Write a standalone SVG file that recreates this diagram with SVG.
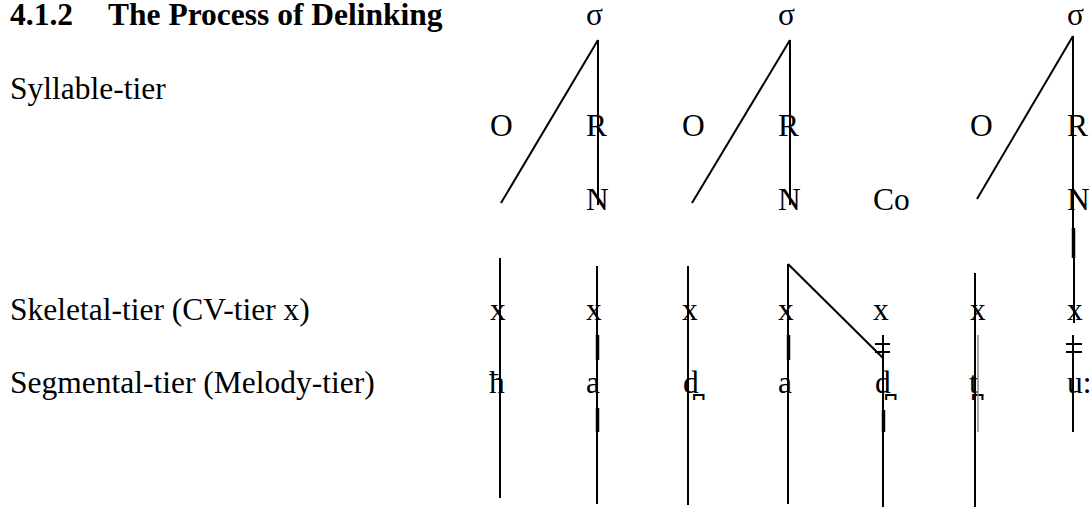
<svg xmlns="http://www.w3.org/2000/svg" width="1092" height="508" viewBox="0 0 1092 508">
<style>
text{font-family:"Liberation Serif","DejaVu Serif",serif;font-size:31.5px;fill:#000}
.b{font-weight:bold}
.l{stroke:#000;stroke-width:2;fill:none}
.t{stroke:#000;stroke-width:3.5;fill:none}
.g{stroke:#888;stroke-width:1.5;fill:none}
</style>
<rect width="1092" height="508" fill="#fff"/>
<g id="labels">
<text class="b" x="10" y="25"><tspan x="10">4.1.2</tspan><tspan x="108">The Process of Delinking</tspan></text>
<text x="10" y="99">Syllable-tier</text>
<text x="10" y="320">Skeletal-tier (CV-tier x)</text>
<text x="10" y="393">Segmental-tier (Melody-tier)</text>
</g>
<g id="syll1"><text x="586" y="25">σ</text></g>
<g id="syll2"><text x="778" y="25">σ</text></g>
<g id="syll3"><text x="1067" y="25">σ</text></g>
<g id="onset1"><text x="490" y="136">O</text></g>
<g id="rhyme1"><text x="586" y="136">R</text></g>
<g id="onset2"><text x="682" y="136">O</text></g>
<g id="rhyme2"><text x="778" y="136">R</text></g>
<g id="onset3"><text x="970" y="136">O</text></g>
<g id="rhyme3"><text x="1067" y="136">R</text></g>
<g id="nucleus1"><text x="586" y="210">N</text></g>
<g id="nucleus2"><text x="778" y="210">N</text></g>
<g id="coda"><text x="873" y="210">Co</text></g>
<g id="nucleus3"><text x="1067" y="210">N</text></g>
<g id="x1"><text x="490" y="320">x</text></g>
<g id="x2"><text x="586" y="320">x</text></g>
<g id="x3"><text x="682" y="320">x</text></g>
<g id="x4"><text x="778" y="320">x</text></g>
<g id="x5"><text x="873" y="320">x</text></g>
<g id="x6"><text x="970" y="320">x</text></g>
<g id="x7"><text x="1067" y="320">x</text></g>
<g id="seg1"><text x="489" y="393">ħ</text></g>
<g id="seg2"><text x="586" y="393">a</text></g>
<g id="seg3"><text x="683" y="393">d̪</text></g>
<g id="seg4"><text x="778" y="393">a</text></g>
<g id="seg5"><text x="875" y="393">d̪</text></g>
<g id="seg6"><text x="969" y="393">t̪</text></g>
<g id="seg7"><text x="1067" y="393">u:</text></g>
<g id="connectors">
<line class="l" x1="598" y1="40" x2="501" y2="203"/>
<line class="l" x1="598" y1="40" x2="598" y2="205"/>
<line class="l" x1="790" y1="40" x2="692" y2="203"/>
<line class="l" x1="790" y1="40" x2="790" y2="205"/>
<line class="l" x1="1073" y1="36" x2="977" y2="199"/>
<line class="l" x1="1073" y1="36" x2="1073" y2="258"/>
<line class="l" x1="1074" y1="228" x2="1074" y2="323"/>
<line class="t" x1="1073.5" y1="228" x2="1073.5" y2="258"/>
<line class="l" x1="500" y1="258" x2="500" y2="498"/>
<line class="l" x1="597" y1="266" x2="597" y2="504"/>
<line class="t" x1="597.5" y1="335" x2="597.5" y2="360"/>
<line class="t" x1="597.5" y1="408" x2="597.5" y2="432"/>
<line class="l" x1="688" y1="266" x2="688" y2="505"/>
<line class="l" x1="788" y1="264" x2="788" y2="504"/>
<line class="t" x1="788.5" y1="335" x2="788.5" y2="360"/>
<line class="l" x1="788" y1="264" x2="883" y2="358"/>
<line class="l" x1="883" y1="335" x2="883" y2="507"/>
<line class="t" x1="883.5" y1="410" x2="883.5" y2="432"/>
<line class="l" x1="875" y1="344" x2="890" y2="344"/>
<line class="l" x1="875" y1="352" x2="890" y2="352"/>
<line class="l" x1="975" y1="273" x2="975" y2="507"/>
<line class="g" x1="978" y1="335" x2="978" y2="432"/>
<line class="l" x1="1073" y1="335" x2="1073" y2="432"/>
<line class="l" x1="1066" y1="344" x2="1082" y2="344"/>
<line class="l" x1="1066" y1="352" x2="1082" y2="352"/>
</g>
</svg>
